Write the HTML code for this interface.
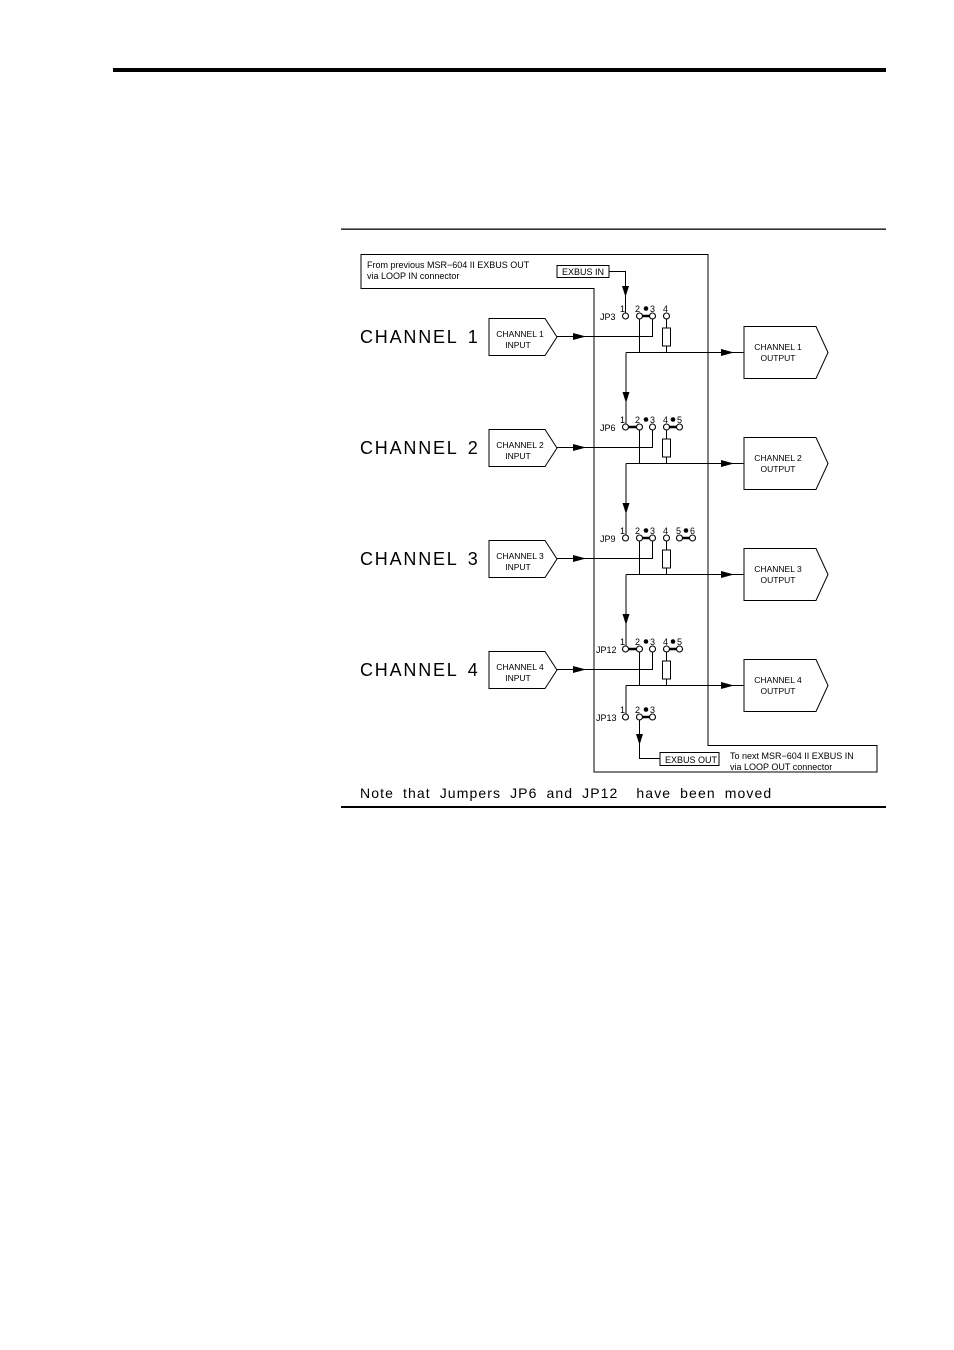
<!DOCTYPE html>
<html><head><meta charset="utf-8"><style>
html,body{margin:0;padding:0;background:#fff}
svg{display:block}
text{font-family:"Liberation Sans",sans-serif;fill:#000}
</style></head><body>
<svg width="954" height="1350" viewBox="0 0 954 1350" xmlns="http://www.w3.org/2000/svg">
<defs>
<path id="arrD" d="M-3.5,-11 L3.5,-11 L0,0 Z"/>
<path id="arrR" d="M-13,-3.5 L-13,3.5 L0,0 Z"/>
</defs>
<rect x="113" y="68" width="773" height="4" fill="#000"/>
<rect x="341" y="228.5" width="545" height="1.3" fill="#000"/>
<rect x="341" y="806" width="545" height="2" fill="#000"/>
<g fill="none" stroke="#000" stroke-width="1">
<path d="M361,254.5 H708 V745.5 H877 V772 H594 V288.5 H361 Z"/>
<rect x="557" y="265.5" width="52" height="12"/>
<rect x="660" y="752.5" width="59" height="13"/>
</g>
<text x="367" y="268" font-size="9">From previous MSR−604 II EXBUS OUT</text>
<text x="367" y="279" font-size="9">via LOOP IN connector</text>
<text x="562" y="275" font-size="9">EXBUS IN</text>
<text x="665" y="763" font-size="9">EXBUS OUT</text>
<text x="730" y="759" font-size="9">To next MSR−604 II EXBUS IN</text>
<text x="730" y="770" font-size="9">via LOOP OUT connector</text>
<text x="360" y="798" font-size="14" letter-spacing="1.1" word-spacing="4">Note that Jumpers JP6 and JP12 &#160;have been moved</text>
<path d="M609,271.5 H625.5 V313" fill="none" stroke="#000"/>
<use href="#arrD" x="625.5" y="297"/>

<!-- ROW 1 -->
<g>
<text x="360" y="343" font-size="18" letter-spacing="1.8" word-spacing="3">CHANNEL 1</text>
<path d="M489,318.5 H545 L557,337 L545,355.5 H489 Z" fill="#fff" stroke="#000"/>
<text x="520" y="337" font-size="8.5" text-anchor="middle">CHANNEL 1</text>
<text x="518" y="348" font-size="8.5" text-anchor="middle">INPUT</text>
<path d="M557,336.5 H652.5 V319 M639.5,319 V352.5 M666.5,319 V328 M666.5,346 V352.5 M626,352.5 H744 M626,352.5 V424" fill="none" stroke="#000"/>
<use href="#arrR" x="586" y="336.5"/>
<use href="#arrR" x="734" y="352.5"/>
<use href="#arrD" x="626" y="403"/>
<rect x="662.5" y="328" width="8" height="18" fill="#fff" stroke="#000"/>
<path d="M744,326.5 H816 L828,352.5 L816,378.5 H744 Z" fill="#fff" stroke="#000"/>
<text x="778" y="350" font-size="8.5" text-anchor="middle">CHANNEL 1</text>
<text x="778" y="361" font-size="8.5" text-anchor="middle">OUTPUT</text>
<text x="600" y="320" font-size="9">JP3</text>
<text x="620" y="312" font-size="9">1</text><text x="635" y="312" font-size="9">2</text><circle cx="646" cy="308.5" r="2.3"/><text x="650" y="312" font-size="9">3</text><text x="663" y="312" font-size="9">4</text>
<line x1="639.5" y1="316" x2="652.5" y2="316" stroke="#000" stroke-width="2.5"/>
<g fill="#fff" stroke="#000" stroke-width="1.1"><circle cx="625.5" cy="316" r="3"/><circle cx="639.5" cy="316" r="3"/><circle cx="652.5" cy="316" r="3"/><circle cx="666.5" cy="316" r="3"/></g>
</g>

<!-- ROW 2 -->
<g transform="translate(0,111)">
<text x="360" y="343" font-size="18" letter-spacing="1.8" word-spacing="3">CHANNEL 2</text>
<path d="M489,318.5 H545 L557,337 L545,355.5 H489 Z" fill="#fff" stroke="#000"/>
<text x="520" y="337" font-size="8.5" text-anchor="middle">CHANNEL 2</text>
<text x="518" y="348" font-size="8.5" text-anchor="middle">INPUT</text>
<path d="M557,336.5 H652.5 V319 M639.5,319 V352.5 M666.5,319 V328 M666.5,346 V352.5 M626,352.5 H744 M626,352.5 V424" fill="none" stroke="#000"/>
<use href="#arrR" x="586" y="336.5"/>
<use href="#arrR" x="734" y="352.5"/>
<use href="#arrD" x="626" y="403"/>
<rect x="662.5" y="328" width="8" height="18" fill="#fff" stroke="#000"/>
<path d="M744,326.5 H816 L828,352.5 L816,378.5 H744 Z" fill="#fff" stroke="#000"/>
<text x="778" y="350" font-size="8.5" text-anchor="middle">CHANNEL 2</text>
<text x="778" y="361" font-size="8.5" text-anchor="middle">OUTPUT</text>
<text x="600" y="320" font-size="9">JP6</text>
<text x="620" y="312" font-size="9">1</text><text x="635" y="312" font-size="9">2</text><circle cx="646" cy="308.5" r="2.3"/><text x="650" y="312" font-size="9">3</text><text x="663" y="312" font-size="9">4</text><circle cx="673" cy="308.5" r="2.3"/><text x="677" y="312" font-size="9">5</text>
<path d="M625.5,316 H639.5 M666.5,316 H679.5" stroke="#000" stroke-width="2.5"/>
<g fill="#fff" stroke="#000" stroke-width="1.1"><circle cx="625.5" cy="316" r="3"/><circle cx="639.5" cy="316" r="3"/><circle cx="652.5" cy="316" r="3"/><circle cx="666.5" cy="316" r="3"/><circle cx="679.5" cy="316" r="3"/></g>
</g>

<!-- ROW 3 -->
<g transform="translate(0,222)">
<text x="360" y="343" font-size="18" letter-spacing="1.8" word-spacing="3">CHANNEL 3</text>
<path d="M489,318.5 H545 L557,337 L545,355.5 H489 Z" fill="#fff" stroke="#000"/>
<text x="520" y="337" font-size="8.5" text-anchor="middle">CHANNEL 3</text>
<text x="518" y="348" font-size="8.5" text-anchor="middle">INPUT</text>
<path d="M557,336.5 H652.5 V319 M639.5,319 V352.5 M666.5,319 V328 M666.5,346 V352.5 M626,352.5 H744 M626,352.5 V424" fill="none" stroke="#000"/>
<use href="#arrR" x="586" y="336.5"/>
<use href="#arrR" x="734" y="352.5"/>
<use href="#arrD" x="626" y="403"/>
<rect x="662.5" y="328" width="8" height="18" fill="#fff" stroke="#000"/>
<path d="M744,326.5 H816 L828,352.5 L816,378.5 H744 Z" fill="#fff" stroke="#000"/>
<text x="778" y="350" font-size="8.5" text-anchor="middle">CHANNEL 3</text>
<text x="778" y="361" font-size="8.5" text-anchor="middle">OUTPUT</text>
<text x="600" y="320" font-size="9">JP9</text>
<text x="620" y="312" font-size="9">1</text><text x="635" y="312" font-size="9">2</text><circle cx="646" cy="308.5" r="2.3"/><text x="650" y="312" font-size="9">3</text><text x="663" y="312" font-size="9">4</text><text x="676" y="312" font-size="9">5</text><circle cx="686" cy="308.5" r="2.3"/><text x="690" y="312" font-size="9">6</text>
<path d="M639.5,316 H652.5 M679.5,316 H692.5" stroke="#000" stroke-width="2.5"/>
<g fill="#fff" stroke="#000" stroke-width="1.1"><circle cx="625.5" cy="316" r="3"/><circle cx="639.5" cy="316" r="3"/><circle cx="652.5" cy="316" r="3"/><circle cx="666.5" cy="316" r="3"/><circle cx="679.5" cy="316" r="3"/><circle cx="692.5" cy="316" r="3"/></g>
</g>

<!-- ROW 4 -->
<g transform="translate(0,333)">
<text x="360" y="343" font-size="18" letter-spacing="1.8" word-spacing="3">CHANNEL 4</text>
<path d="M489,318.5 H545 L557,337 L545,355.5 H489 Z" fill="#fff" stroke="#000"/>
<text x="520" y="337" font-size="8.5" text-anchor="middle">CHANNEL 4</text>
<text x="518" y="348" font-size="8.5" text-anchor="middle">INPUT</text>
<path d="M557,336.5 H652.5 V319 M639.5,319 V352.5 M666.5,319 V328 M666.5,346 V352.5 M626,352.5 H744 M626,352.5 V380" fill="none" stroke="#000"/>
<use href="#arrR" x="586" y="336.5"/>
<use href="#arrR" x="734" y="352.5"/>
<rect x="662.5" y="328" width="8" height="18" fill="#fff" stroke="#000"/>
<path d="M744,326.5 H816 L828,352.5 L816,378.5 H744 Z" fill="#fff" stroke="#000"/>
<text x="778" y="350" font-size="8.5" text-anchor="middle">CHANNEL 4</text>
<text x="778" y="361" font-size="8.5" text-anchor="middle">OUTPUT</text>
<text x="596" y="320" font-size="9">JP12</text>
<text x="620" y="312" font-size="9">1</text><text x="635" y="312" font-size="9">2</text><circle cx="646" cy="308.5" r="2.3"/><text x="650" y="312" font-size="9">3</text><text x="663" y="312" font-size="9">4</text><circle cx="673" cy="308.5" r="2.3"/><text x="677" y="312" font-size="9">5</text>
<path d="M625.5,316 H639.5 M666.5,316 H679.5" stroke="#000" stroke-width="2.5"/>
<g fill="#fff" stroke="#000" stroke-width="1.1"><circle cx="625.5" cy="316" r="3"/><circle cx="639.5" cy="316" r="3"/><circle cx="652.5" cy="316" r="3"/><circle cx="666.5" cy="316" r="3"/><circle cx="679.5" cy="316" r="3"/></g>
</g>

<!-- JP13 -->
<path d="M626,713 V716 M639.5,719 V758.5 H660" fill="none" stroke="#000"/>
<use href="#arrD" x="639.5" y="745"/>
<text x="596" y="721" font-size="9">JP13</text>
<text x="620" y="713" font-size="9">1</text><text x="635" y="713" font-size="9">2</text><circle cx="646" cy="709.5" r="2.3"/><text x="650" y="713" font-size="9">3</text>
<path d="M639.5,717 H652.5" stroke="#000" stroke-width="2.5"/>
<g fill="#fff" stroke="#000" stroke-width="1.1"><circle cx="625.5" cy="717" r="3"/><circle cx="639.5" cy="717" r="3"/><circle cx="652.5" cy="717" r="3"/></g>
</svg>
</body></html>
